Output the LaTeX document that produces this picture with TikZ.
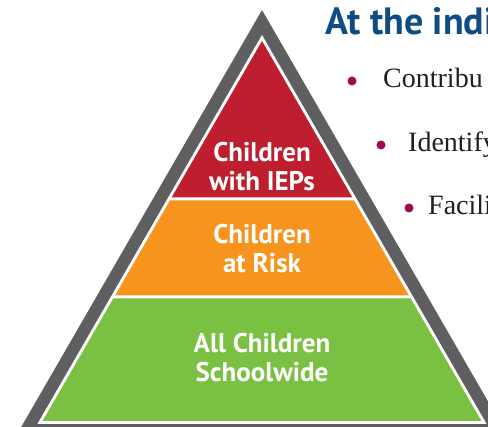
\documentclass[tikz,border=0pt]{standalone}
\usepackage{fontspec}
\setmainfont{Liberation Serif}
\newfontfamily\labelfont{PT Sans}
\definecolor{rimgrey}{HTML}{5F5F61}
\definecolor{tipred}{HTML}{BE1E2D}
\definecolor{midorange}{HTML}{F7941E}
\definecolor{basegreen}{HTML}{7AC143}
\definecolor{headblue}{HTML}{0F4C81}
\definecolor{dotmaroon}{HTML}{9E0B4F}
\definecolor{inktext}{HTML}{231F20}
\begin{document}
\begin{tikzpicture}[
            x = 1pt, y = -1pt,
            tier/.style = {text = white, align = center, inner sep = 0pt,
                font = \labelfont\bfseries\fontsize{27}{29}\selectfont},
            head/.style = {anchor = base west, inner sep = 0pt, text = headblue,
                font = \labelfont\bfseries\fontsize{38}{40}\selectfont},
            dot/.style = {circle, fill = dotmaroon, inner sep = 0pt, minimum size = 9pt},
            item/.style = {anchor = base west, inner sep = 0pt, text = inktext,
                font = \fontsize{28}{30}\selectfont},
        ]
        \useasboundingbox (0,0) rectangle (488,427);
        \clip (0,0) rectangle (488,427);

        % frame and white gap
        \fill[rimgrey] (262,10) -- (13.7,440) -- (510.3,440) -- cycle;
        \fill[white] (262,35) -- (37.4,424) -- (486.6,424) -- cycle;

        % the three tiers
        \fill[tipred] (262,41) -- (171.6,197.5) -- (352.4,197.5) -- cycle;
        \fill[midorange] (169.9,200.5) -- (354.1,200.5) -- (408.9,295.5) -- (115.1,295.5) -- cycle;
        \fill[basegreen] (113.3,298.5) -- (410.7,298.5) -- (481.4,421) -- (42.6,421) -- cycle;

        \node (TOP) [tier] at (262,167) {Children\\with IEPs};
        \node (MID) [tier] at (262,249) {Children\\at Risk};
        \node (BASE) [tier] at (262,358) {All Children\\Schoolwide};

        % heading and list
        \node (HEAD) [head] at (325,35) {At the indi};

        \node (D1) [dot] at (352,81) {};
        \node (D2) [dot] at (381,145) {};
        \node (D3) [dot] at (409,208) {};
        \node (I1) [item] at (383,88) {Contribu};
        \node (I2) [item] at (408,152) {Identify};
        \node (I3) [item] at (428,215) {Facilit};
    \end{tikzpicture}
\end{document}
